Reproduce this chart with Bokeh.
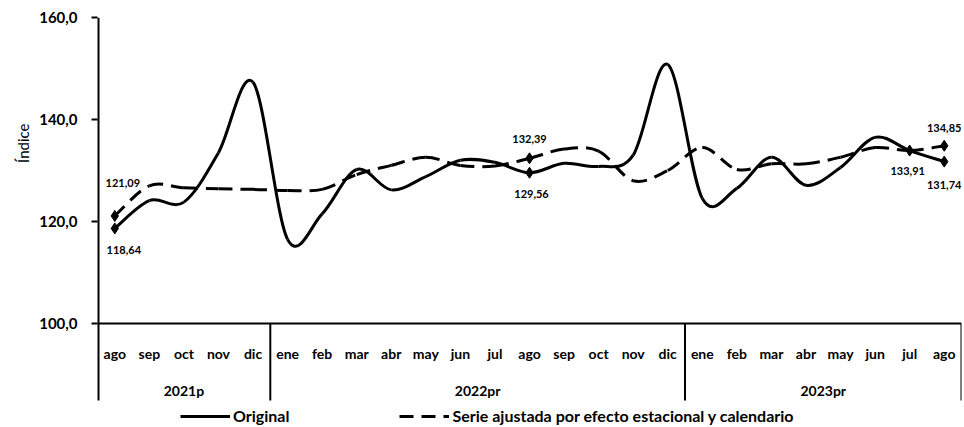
import numpy as np
from bokeh.plotting import figure
from bokeh.models import (Range1d, FixedTicker, ColumnDataSource, Legend, LegendItem, Title)
from bokeh.core.properties import value
from bokeh.embed import file_html
from bokeh.resources import INLINE

# ---- data ----
months = ["ago", "sep", "oct", "nov", "dic",
          "ene", "feb", "mar", "abr", "may", "jun", "jul", "ago", "sep", "oct", "nov", "dic",
          "ene", "feb", "mar", "abr", "may", "jun", "jul", "ago"]
years = ["2021p", "2022pr", "2023pr"]
year_counts = [5, 12, 8]
original = [118.64, 124.1, 123.8, 133.5, 147.3,
            116.5, 121.5, 130.2, 126.2, 128.8, 132.0, 131.6, 129.56, 131.4, 130.8, 133.0, 150.8,
            124.5, 126.5, 132.6, 127.1, 130.6, 136.5, 133.91, 131.74]
adjusted = [121.09, 127.0, 126.6, 126.4, 126.3,
            126.1, 126.3, 129.2, 131.0, 132.6, 131.0, 130.9, 132.39, 134.2, 133.8, 128.0, 130.0,
            134.5, 130.2, 131.3, 131.3, 132.6, 134.5, 133.9, 134.85]
orig_label_idx = [0, 12, 23, 24]
adj_label_idx = [0, 12, 24]
y_ticks = [100, 120, 140, 160]
y_tick_labels = ["100,0", "120,0", "140,0", "160,0"]
series_names = ["Original", "Serie ajustada por efecto estacional y calendario"]
y_title = "Índice"

FONT = "Lato"
TABLE_BOTTOM = 84.9

n = len(months)
xs = np.arange(n, dtype=float)


def smooth_segments(x, y):
    """Catmull-Rom style bezier control points through the data points."""
    x = np.asarray(x, float)
    y = np.asarray(y, float)
    xp = np.concatenate([[x[0]], x, [x[-1]]])
    yp = np.concatenate([[y[0]], y, [y[-1]]])
    d = dict(x0=[], y0=[], x1=[], y1=[], cx0=[], cy0=[], cx1=[], cy1=[])
    for i in range(len(x) - 1):
        j = i + 1
        d["x0"].append(xp[j]); d["y0"].append(yp[j])
        d["x1"].append(xp[j + 1]); d["y1"].append(yp[j + 1])
        d["cx0"].append(xp[j] + (xp[j + 1] - xp[j - 1]) / 6)
        d["cy0"].append(yp[j] + (yp[j + 1] - yp[j - 1]) / 6)
        d["cx1"].append(xp[j + 1] - (xp[j + 2] - xp[j]) / 6)
        d["cy1"].append(yp[j + 1] - (yp[j + 2] - yp[j]) / 6)
    return ColumnDataSource(d)


p = figure(width=962, height=426, output_backend="svg", toolbar_location=None,
           x_range=Range1d(-0.5, n - 0.5), y_range=Range1d(79.8, 160),
           min_border_left=97, min_border_right=1, min_border_top=17, min_border_bottom=0)
p.outline_line_color = None
p.grid.visible = False
p.xaxis.visible = False
p.background_fill_color = "white"

yax = p.yaxis[0]
yax.ticker = FixedTicker(ticks=y_ticks)
yax.major_label_overrides = {t: l for t, l in zip(y_ticks, y_tick_labels)}
yax.minor_tick_line_color = None
yax.major_tick_in = 0
yax.major_tick_out = 6
yax.axis_line_color = None
yax.major_tick_line_width = 2
yax.major_label_text_font = FONT
yax.major_label_text_font_style = "bold"
yax.major_label_text_font_size = "15px"
yax.major_label_text_color = "black"
yax.major_label_standoff = 14

p.add_layout(Title(text=y_title, align="right", offset=106, text_font=FONT,
                   text_font_size="15px", text_font_style="normal", text_color="black",
                   standoff=10), "left")

# left axis line (down to the bottom of the category table)
p.segment(x0=[-0.5], y0=[TABLE_BOTTOM], x1=[-0.5], y1=[160], line_color="black", line_width=4)
# x "table": axis line, month labels, year labels, separators
p.segment(x0=[-0.5], y0=[100], x1=[n - 0.5], y1=[100], line_color="black", line_width=2)
p.text(x=xs, y=[100] * n, text=months, text_align="center", text_baseline="middle",
       y_offset=30, text_font=value(FONT), text_font_style="bold",
       text_font_size="14px", text_color="black")
bounds = np.cumsum(year_counts) - 0.5
starts = np.concatenate([[-0.5], bounds[:-1]])
centers = (starts + bounds) / 2
p.text(x=centers, y=[100] * len(years), text=years, text_align="center",
       text_baseline="middle", y_offset=67, text_font=value(FONT), text_font_style="bold",
       text_font_size="14px", text_color="black")
p.segment(x0=bounds, y0=[100] * len(bounds), x1=bounds, y1=[TABLE_BOTTOM] * len(bounds),
          line_color="black", line_width=2)

# series
src_o = smooth_segments(xs, original)
src_a = smooth_segments(xs, adjusted)
r_a = p.bezier(x0="x0", y0="y0", x1="x1", y1="y1", cx0="cx0", cy0="cy0", cx1="cx1",
               cy1="cy1", source=src_a, line_color="black", line_width=3, line_dash="14 8")
r_o = p.bezier(x0="x0", y0="y0", x1="x1", y1="y1", cx0="cx0", cy0="cy0", cx1="cx1",
               cy1="cy1", source=src_o, line_color="black", line_width=3)

ox = [xs[i] for i in orig_label_idx]
oy = [original[i] for i in orig_label_idx]
ax_ = [xs[i] for i in adj_label_idx]
ay = [adjusted[i] for i in adj_label_idx]
p.scatter(ox, oy, marker="diamond", size=11, color="black")
p.scatter(ax_, ay, marker="diamond", size=11, color="black")
fmt = lambda v: f"{v:.2f}".replace(".", ",")
p.text(x=ox, y=oy, text=[fmt(v) for v in oy], text_align="center", text_baseline="middle",
       x_offset=[9, 2, -2, 0], y_offset=[22, 21, 20, 23],
       text_font=value(FONT), text_font_style="bold", text_font_size="11px",
       text_color="black")
p.text(x=ax_, y=ay, text=[fmt(v) for v in ay], text_align="center", text_baseline="middle",
       x_offset=[8, 0, 0], y_offset=[-33, -19, -18],
       text_font=value(FONT), text_font_style="bold", text_font_size="11px",
       text_color="black")

# legend (inside the frame, below the category table)
legend = Legend(items=[LegendItem(label=series_names[0], renderers=[r_o]),
                       LegendItem(label=series_names[1], renderers=[r_a])],
                orientation="horizontal", location=(83, 1), spacing=110,
                glyph_width=50, glyph_height=16, label_height=16, padding=2, margin=0,
                label_standoff=3, border_line_color=None, background_fill_alpha=0,
                label_text_font=FONT, label_text_font_style="bold",
                label_text_font_size="16px", label_text_color="black")
p.add_layout(legend)

open("out.html", "w").write(file_html(p, INLINE))
